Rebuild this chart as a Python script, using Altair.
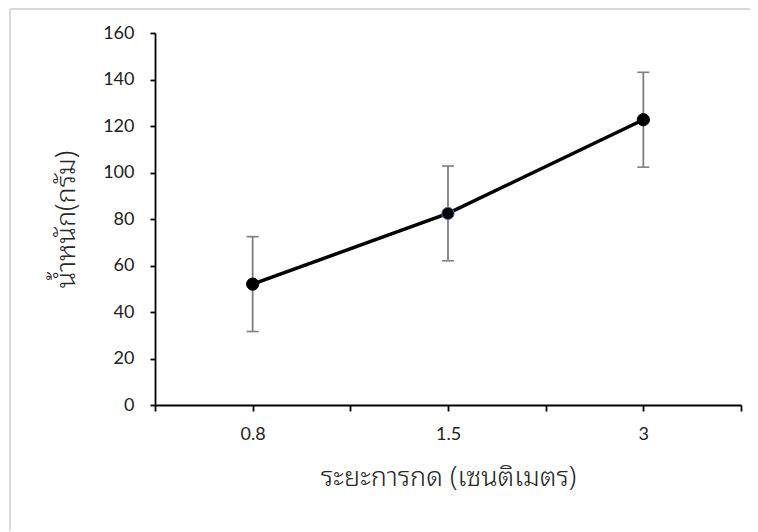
import json
import altair as alt
import pandas as pd

# ---- data ----
categories = ["0.8", "1.5", "3"]
means = [52.0, 82.4, 122.7]
errors = [20.4, 20.4, 20.4]

x_title = "ระยะการกด (เซนติเมตร)"
y_title = "น้ำหนัก(กรัม)"
y_ticks = [0, 20, 40, 60, 80, 100, 120, 140, 160]

df = pd.DataFrame({
    "idx": list(range(len(categories))),
    "cat": categories,
    "mean": means,
    "lo": [m - e for m, e in zip(means, errors)],
    "hi": [m + e for m, e in zip(means, errors)],
})

n = len(categories)
x_tick_vals = [i * 0.5 - 0.5 for i in range(2 * n + 1)]
label_expr = f"datum.value % 1 === 0 ? {json.dumps(categories)}[datum.value] : ''"

LABEL_FONT = "Lato"
TITLE_FONT = "Noto Sans Thai Looped, Noto Sans"

x_enc = alt.X(
    "idx:Q",
    scale=alt.Scale(domain=[-0.5, n - 0.5], nice=False, zero=False),
    axis=alt.Axis(
        values=x_tick_vals,
        labelExpr=label_expr,
        title=x_title,
        grid=False,
        domainColor="black",
        domainWidth=1.8,
        tickColor="black",
        tickWidth=1.8,
        tickSize=6,
        labelPadding=14,
        labelFont=LABEL_FONT,
        labelFontSize=18,
        labelColor="#222222",
        titleFont=TITLE_FONT,
        titleFontSize=27,
        titleFontWeight=300,
        titleColor="#262626",
        titlePadding=21,
        labelFlush=False,
    ),
)

y_enc = alt.Y(
    "mean:Q",
    scale=alt.Scale(domain=[0, 160], nice=False),
    axis=alt.Axis(
        values=y_ticks,
        title=y_title,
        grid=False,
        domainColor="black",
        domainWidth=1.8,
        tickColor="black",
        tickWidth=1.8,
        tickSize=5,
        labelPadding=16,
        labelFont=LABEL_FONT,
        labelFontSize=18,
        labelColor="#222222",
        titleFont=TITLE_FONT,
        titleFontSize=27,
        titleFontWeight=300,
        titleColor="#262626",
        titlePadding=22,
    ),
)

base = alt.Chart(df)

err_rules = base.mark_rule(color="#7f7f7f", strokeWidth=1.8).encode(
    x=x_enc, y="lo:Q", y2="hi:Q"
)
cap_lo = base.mark_tick(orient="horizontal", size=12, thickness=1.6, color="#7f7f7f", opacity=1).encode(
    x="idx:Q", y="lo:Q"
)
cap_hi = base.mark_tick(orient="horizontal", size=12, thickness=1.6, color="#7f7f7f", opacity=1).encode(
    x="idx:Q", y="hi:Q"
)
line = base.mark_line(color="black", strokeWidth=3.5).encode(x="idx:Q", y=y_enc)
points = base.mark_point(filled=True, size=150, color="black", opacity=1, strokeWidth=1).encode(
    x="idx:Q",
    y="mean:Q",
    stroke=alt.condition("datum.idx == 1", alt.value("#4472C4"), alt.value("black")),
)

frame = alt.Chart(alt.Data(values=[{}]))
border_left = frame.mark_rule(color="#d9d9d9", strokeWidth=2).encode(
    x=alt.value(-145), y=alt.value(-24), y2=alt.value(540)
)
border_top = frame.mark_rule(color="#d9d9d9", strokeWidth=2).encode(
    x=alt.value(-145), x2=alt.value(620), y=alt.value(-24)
)

chart = alt.layer(
    border_left, border_top, err_rules, cap_lo, cap_hi, line, points
).properties(
    width=586,
    height=372,
    autosize=alt.AutoSizeParams(type="none"),
    padding={"left": 147, "top": 25, "right": 9, "bottom": 126},
    background="white",
).configure_view(stroke=None)

chart.save("out.html", embed_options={"renderer": "svg", "actions": False})
